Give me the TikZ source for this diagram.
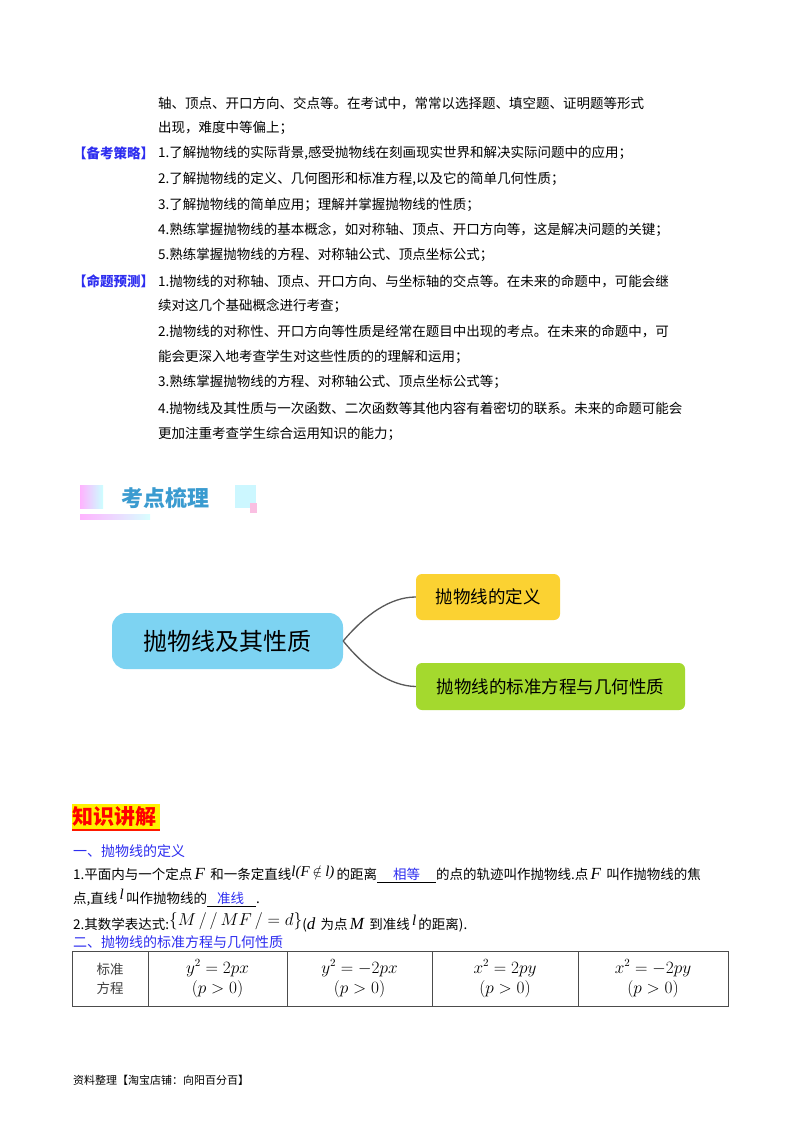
\documentclass[tikz,border=0pt]{standalone}
\usepackage{fontspec}
\setmainfont{Liberation Serif}
\newfontfamily\cjk{Noto Sans CJK SC}
\newfontfamily\tnr{Liberation Serif}
\newcommand{\mi}[1]{{\tnr\itshape\fontsize{17}{17}\selectfont #1}}
\newcommand{\ms}[1]{{\tnr\itshape\fontsize{15}{15}\selectfont #1}}
\usetikzlibrary{positioning}
\definecolor{hblue}{HTML}{2E2EF0}
\definecolor{mmblue}{HTML}{7DD3F2}
\definecolor{mmyel}{HTML}{FBD232}
\definecolor{mmgrn}{HTML}{A4D92E}
\definecolor{bannerblue}{HTML}{3A9BD0}
\tikzset{
 txt/.style={anchor=west,inner sep=0pt,font=\cjk\fontsize{13.5}{14}\selectfont},
 mm/.style={rounded corners=8pt,inner sep=0pt,font=\cjk\fontsize{17}{18}\selectfont},
 conn/.style={draw=gray!70!black,line width=1.3pt},
 head/.style={anchor=west,inner sep=0pt,text=hblue,font=\cjk\fontsize{14}{15}\selectfont},
 cell/.style={align=center,inner sep=0pt,font=\fontsize{16}{20}\selectfont}
}
\begin{document}
\begin{tikzpicture}[x=1pt,y=-1pt]
\useasboundingbox[fill=white] (0,0) rectangle (800,1132);
% top text
\node[txt] (t1) at (158,103) {轴、顶点、开口方向、交点等。在考试中，常常以选择题、填空题、证明题等形式};
\node[txt] (t2) at (158,128) {出现，难度中等偏上；};
\node[txt,text=hblue,font=\cjk\bfseries\fontsize{13.5}{14}\selectfont] (l1) at (73,153) {【备考策略】};
\node[txt] (t3) at (158,153) {1.了解抛物线的实际背景,感受抛物线在刻画现实世界和解决实际问题中的应用；};
\node[txt] (t4) at (158,179) {2.了解抛物线的定义、几何图形和标准方程,以及它的简单几何性质；};
\node[txt] (t5) at (158,205) {3.了解抛物线的简单应用；理解并掌握抛物线的性质；};
\node[txt] (t6) at (158,230) {4.熟练掌握抛物线的基本概念，如对称轴、顶点、开口方向等，这是解决问题的关键；};
\node[txt] (t7) at (158,255) {5.熟练掌握抛物线的方程、对称轴公式、顶点坐标公式；};
\node[txt,text=hblue,font=\cjk\bfseries\fontsize{13.5}{14}\selectfont] (l2) at (73,281) {【命题预测】};
\node[txt] (t8) at (158,281) {1.抛物线的对称轴、顶点、开口方向、与坐标轴的交点等。在未来的命题中，可能会继};
\node[txt] (t9) at (158,306) {续对这几个基础概念进行考查；};
\node[txt] (t10) at (158,331) {2.抛物线的对称性、开口方向等性质是经常在题目中出现的考点。在未来的命题中，可};
\node[txt] (t11) at (158,357) {能会更深入地考查学生对这些性质的的理解和运用；};
\node[txt] (t12) at (158,382) {3.熟练掌握抛物线的方程、对称轴公式、顶点坐标公式等；};
\node[txt] (t13) at (158,408) {4.抛物线及其性质与一次函数、二次函数等其他内容有着密切的联系。未来的命题可能会};
\node[txt] (t14) at (158,434) {更加注重考查学生综合运用知识的能力；};
% banner
\shade[left color=magenta!30, right color=cyan!20] (80,485) rectangle (103,508);
\shade[left color=magenta!30, right color=cyan!15] (80,514) rectangle (150,519);
\fill[blue!15!cyan!20] (235,485) rectangle (256,508);
\fill[magenta!25] (250,503) rectangle (257,513);
\node[anchor=west,inner sep=0pt,text=bannerblue,font=\cjk\bfseries\fontsize{22}{23}\selectfont] (ban) at (121,498) {考点梳理};
% mind map
\node[mm,fill=mmblue,minimum width=231pt,minimum height=56pt,rounded corners=14pt,font=\cjk\fontsize{24}{25}\selectfont] (c) at (227.5,641) {抛物线及其性质};
\node[mm,fill=mmyel,minimum width=144pt,minimum height=46pt,rounded corners=6pt,font=\cjk\fontsize{17.5}{18}\selectfont] (a) at (488,597) {抛物线的定义};
\node[mm,fill=mmgrn,minimum width=269pt,minimum height=47pt,rounded corners=6pt,font=\cjk\fontsize{17.5}{18}\selectfont] (b) at (550.5,686.5) {抛物线的标准方程与几何性质};
\draw[conn] (c.east) .. controls (365,615) and (390,597) .. (a.west);
\draw[conn] (c.east) .. controls (365,668) and (390,686) .. (b.west);
% knowledge
\fill[yellow] (72,804) rectangle (160,829);
\fill[red!80!orange] (72,829) rectangle (160,831);
\node[anchor=west,inner sep=0pt,text=red,font=\cjk\bfseries\fontsize{21}{22}\selectfont] (k) at (72,817) {知识讲解};
\node[head] (h1) at (73,851) {一、抛物线的定义};
\node[txt] (p1) at (73,874) {1.平面内与一个定点\,\mi{F}\, 和一条定直线\raisebox{3pt}{\ms{l}\ms{(F} $\notin$ \ms{l)}}\,的距离\underline{\hspace{16pt}\textcolor{hblue}{相等}\hspace{16pt}}的点的轨迹叫作抛物线.点\,\mi{F}\, 叫作抛物线的焦};
\node[txt] (p2) at (73,898) {点,直线\,\raisebox{4pt}{\ms{l}}\,叫作抛物线的\underline{\hspace{10pt}\textcolor{hblue}{准线}\hspace{12pt}}.};
\node[txt] (p3) at (73,922) {2.其数学表达式:\raisebox{4pt}{\fontsize{16}{16}\selectfont$\{M\,/\,/\,MF\,/=d\}$}(\mi{d}\, 为点\,\mi{M}\, 到准线\,\raisebox{4pt}{\ms{l}}\,的距离).};
\node[head] (h2) at (73,942) {二、抛物线的标准方程与几何性质};
% table
\draw[gray!60!black,line width=0.8pt] (72,951) rectangle (728,1006);
\foreach \xx in {148,287,432,578} \draw[gray!60!black,line width=0.8pt] (\xx,951) -- (\xx,1006);
\node[cell,font=\cjk\fontsize{13.5}{19}\selectfont,text=black!75] (c0) at (110,978.5) {标准\\方程};
\node[cell] (c1) at (217.5,978.5) {$y^2=2px$\\$(p>0)$};
\node[cell] (c2) at (359.5,978.5) {$y^2=-2px$\\$(p>0)$};
\node[cell] (c3) at (505,978.5) {$x^2=2py$\\$(p>0)$};
\node[cell] (c4) at (653,978.5) {$x^2=-2py$\\$(p>0)$};
\node[anchor=west,inner sep=0pt,font=\cjk\fontsize{11}{12}\selectfont] (f) at (73,1080) {资料整理【淘宝店铺：向阳百分百】};
\end{tikzpicture}
\end{document}
